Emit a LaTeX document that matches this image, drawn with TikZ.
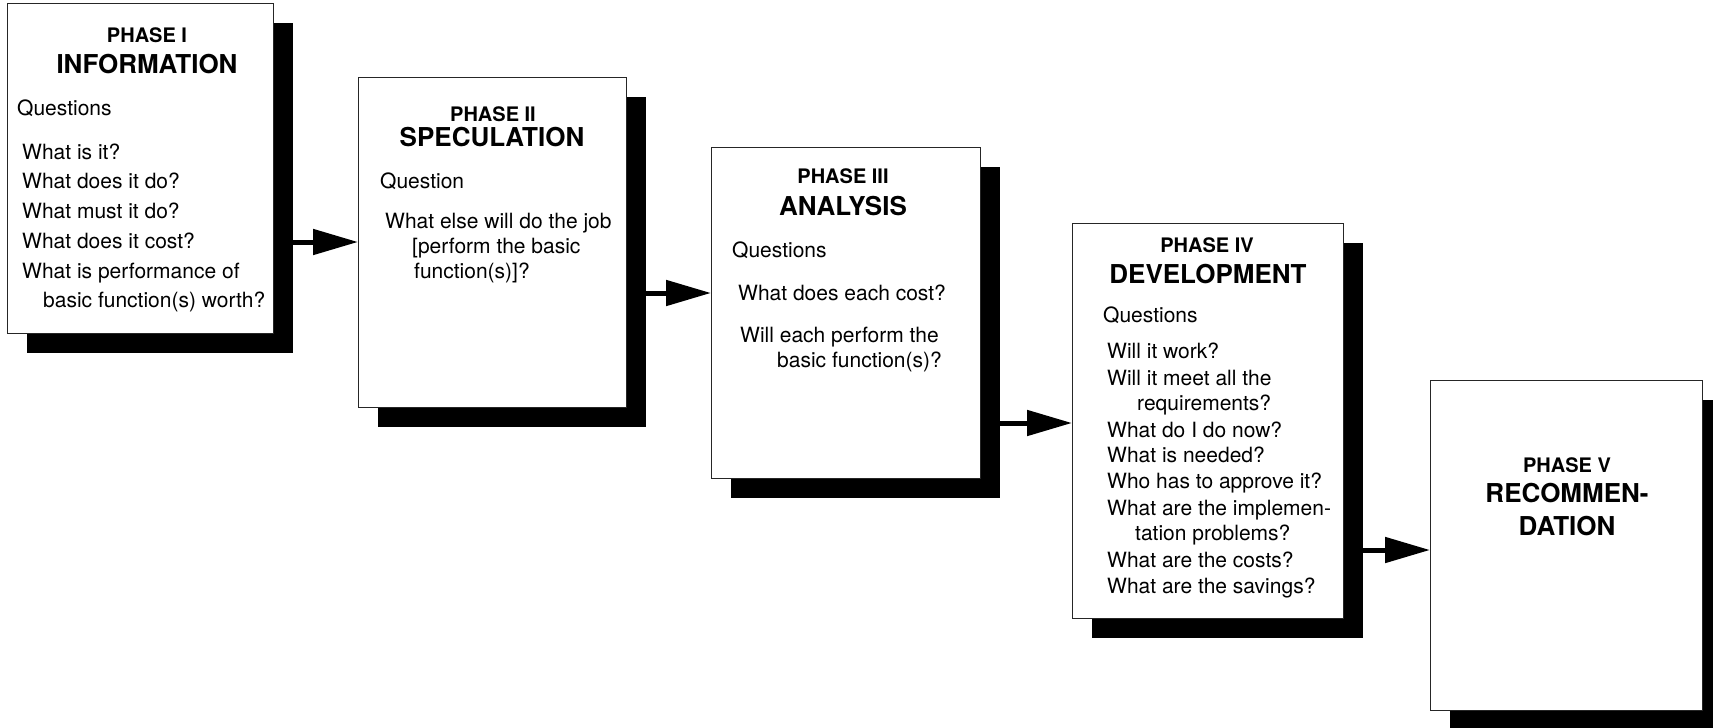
\documentclass[tikz,border=0pt]{standalone}
\usepackage{fontspec}
\setmainfont{TeX Gyre Heros}
\usetikzlibrary{shadows,arrows.meta}
\begin{document}
\begin{tikzpicture}[x=1pt,y=-1pt,
  box/.style={draw=black!85,line width=1.3pt,fill=white,inner sep=0pt,anchor=north west,
    drop shadow={shadow xshift=19pt,shadow yshift=-19pt,opacity=1,fill=black}},
  phase/.style={font=\bfseries\fontsize{20}{23}\selectfont,anchor=base,inner sep=0pt},
  ttl/.style={font=\bfseries\fontsize{26}{30}\selectfont,anchor=base,inner sep=0pt},
  q/.style={font=\fontsize{21}{25}\selectfont,anchor=base west,inner sep=0pt},
  arr/.style={line width=5pt,-{Triangle[length=45pt,width=25pt]}}]
\useasboundingbox (0,0) rectangle (1713,728);
% boxes
\node[box,minimum width=266pt,minimum height=330pt] (b1) at (7,3) {};
\node[box,minimum width=268pt,minimum height=330pt] (b2) at (358,77) {};
\node[box,minimum width=269pt,minimum height=331pt] (b3) at (711,147) {};
\node[box,minimum width=271pt,minimum height=395pt] (b4) at (1072,223) {};
\node[box,minimum width=272pt,minimum height=330pt] (b5) at (1430,380) {};
% arrows
\coordinate (y1) at (0,242);
\coordinate (y2) at (0,293);
\coordinate (y3) at (0,423);
\coordinate (y4) at (0,550);
\draw[arr] (b1.east |- y1) -- (b2.west |- y1);
\draw[arr] (b2.east |- y2) -- (b3.west |- y2);
\draw[arr] (b3.east |- y3) -- (b4.west |- y3);
\draw[arr] (b4.east |- y4) -- (b5.west |- y4);
% box 1
\node[phase] (p1) at (147,42) {PHASE I};
\node[ttl] (h1) at (147,73) {INFORMATION};
\node[q] (q1) at (17,115) {Questions};
\node[q] (q1a) at (22,159) {What is it?};
\node[q] (q1b) at (22,188) {What does it do?};
\node[q] (q1c) at (22,218) {What must it do?};
\node[q] (q1d) at (22,248) {What does it cost?};
\node[q] (q1e) at (22,278) {What is performance of};
\node[q] (q1f) at (43,307) {basic function(s) worth?};
% box 2
\node[phase] (p2) at (493,121) {PHASE II};
\node[ttl] (h2) at (492,146) {SPECULATION};
\node[q] (q2) at (380,188) {Question};
\node[q] (q2a) at (385,228) {What else will do the job};
\node[q] (q2b) at (412,253) {[perform the basic};
\node[q] (q2c) at (414,278) {function(s)]?};
% box 3
\node[phase] (p3) at (843,183) {PHASE III};
\node[ttl] (h3) at (843,215) {ANALYSIS};
\node[q] (q3) at (732,257) {Questions};
\node[q] (q3a) at (738,300) {What does each cost?};
\node[q] (q3b) at (740,342) {Will each perform the};
\node[q] (q3c) at (777,367) {basic function(s)?};
% box 4
\node[phase] (p4) at (1207,252) {PHASE IV};
\node[ttl] (h4) at (1208,283) {DEVELOPMENT};
\node[q] (q4) at (1103,322) {Questions};
\node[q] (q4a) at (1107,358) {Will it work?};
\node[q] (q4b) at (1107,385) {Will it meet all the};
\node[q] (q4c) at (1137,410) {requirements?};
\node[q] (q4d) at (1107,437) {What do I do now?};
\node[q] (q4e) at (1107,462) {What is needed?};
\node[q] (q4f) at (1107,488) {Who has to approve it?};
\node[q] (q4g) at (1107,515) {What are the implemen-};
\node[q] (q4h) at (1135,540) {tation problems?};
\node[q] (q4i) at (1107,567) {What are the costs?};
\node[q] (q4j) at (1107,593) {What are the savings?};
% box 5
\node[phase] (p5) at (1567,472) {PHASE V};
\node[ttl] (h5) at (1567,502) {RECOMMEN-};
\node[ttl] (h5b) at (1567,535) {DATION};
\end{tikzpicture}
\end{document}
